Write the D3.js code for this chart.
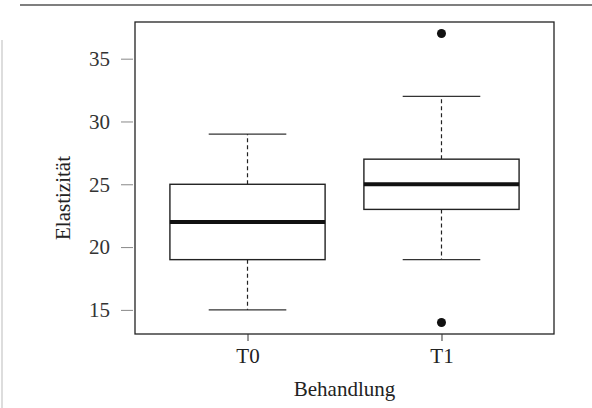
<!DOCTYPE html>
<html><head><meta charset="utf-8">
<script src="https://cdn.jsdelivr.net/npm/d3@7"></script>
<style>body{margin:0;background:#fff}</style>
</head><body>
<svg id="c" width="592" height="408"></svg>
<script>
const categories = ["T0", "T1"];
const whiskerLow = [15, 19];
const q1 = [19, 23];
const median = [22, 25];
const q3 = [25, 27];
const whiskerHigh = [29, 32];
const outliers = [[], [37, 14]];
const yTicks = [15, 20, 25, 30, 35];
const xLabel = "Behandlung";
const yLabel = "Elastizität";

const svg = d3.select("#c");
const L = 135, R = 554, T = 22, B = 334;
const x = d3.scaleLinear().domain([0.42, 2.58]).range([L, R]);
const y = d3.scaleLinear().domain([13.08, 37.92]).range([B, T]);
const font = "Liberation Serif, Times New Roman, serif";
const fs = 21;

// scan edges
svg.append("line").attr("x1",20).attr("x2",592).attr("y1",5).attr("y2",5).attr("stroke","#555").attr("stroke-width",1.5);
svg.append("line").attr("x1",2).attr("x2",2).attr("y1",40).attr("y2",408).attr("stroke","#bbb").attr("stroke-width",1);

svg.append("rect").attr("x",L).attr("y",T).attr("width",R-L).attr("height",B-T)
  .attr("fill","none").attr("stroke","#222").attr("stroke-width",1.3);

const yAxis = d3.axisLeft(y).tickValues(yTicks).tickSize(12).tickPadding(11);
const ga = svg.append("g").attr("transform",`translate(${L-2},0)`).call(yAxis);
ga.select(".domain").remove();
ga.selectAll("line").attr("stroke","#888");
ga.selectAll("text").attr("font-family",font).attr("font-size",fs).attr("fill","#333");

const xAxis = d3.axisBottom(x).tickValues([1,2]).tickFormat((d,i)=>categories[i]).tickSize(7).tickPadding(7);
const gx = svg.append("g").attr("transform",`translate(0,${B})`).call(xAxis);
gx.select(".domain").remove();
gx.selectAll("line").attr("stroke","#333");
gx.selectAll("text").attr("font-family",font).attr("font-size",fs).attr("fill","#222");

svg.append("text").attr("x",(L+R)/2).attr("y",396).attr("text-anchor","middle")
  .attr("font-family",font).attr("font-size",fs).attr("fill","#222").text(xLabel);
svg.append("text").attr("transform",`translate(70,198) rotate(-90)`).attr("text-anchor","middle")
  .attr("font-family",font).attr("font-size",fs).attr("fill","#222").text(yLabel);

const hw = 0.4, cw = 0.2;
categories.forEach((c,i)=>{
  const cx = i+1;
  const g = svg.append("g");
  g.append("line").attr("x1",x(cx)).attr("x2",x(cx)).attr("y1",y(q3[i])).attr("y2",y(whiskerHigh[i]))
    .attr("stroke","#222").attr("stroke-width",1.2).attr("stroke-dasharray","4,3");
  g.append("line").attr("x1",x(cx)).attr("x2",x(cx)).attr("y1",y(q1[i])).attr("y2",y(whiskerLow[i]))
    .attr("stroke","#222").attr("stroke-width",1.2).attr("stroke-dasharray","4,3");
  [whiskerHigh[i], whiskerLow[i]].forEach(v=>{
    g.append("line").attr("x1",x(cx-cw)).attr("x2",x(cx+cw)).attr("y1",y(v)).attr("y2",y(v))
      .attr("stroke","#333").attr("stroke-width",1.2);
  });
  g.append("rect").attr("x",x(cx-hw)).attr("width",x(cx+hw)-x(cx-hw))
    .attr("y",y(q3[i])).attr("height",y(q1[i])-y(q3[i]))
    .attr("fill","#fff").attr("stroke","#222").attr("stroke-width",1.4);
  g.append("line").attr("x1",x(cx-hw)).attr("x2",x(cx+hw)).attr("y1",y(median[i])).attr("y2",y(median[i]))
    .attr("stroke","#111").attr("stroke-width",4);
  outliers[i].forEach(v=>{
    g.append("circle").attr("cx",x(cx)).attr("cy",y(v)).attr("r",4.5).attr("fill","#111");
  });
});
</script>
</body></html>
